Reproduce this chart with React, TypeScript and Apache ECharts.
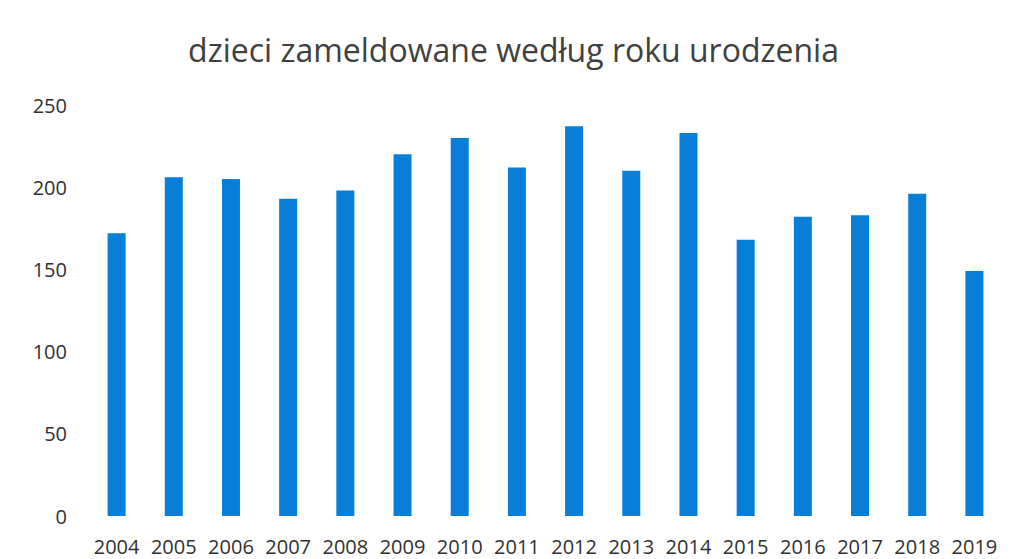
import React, { useEffect, useRef } from "react";
import * as echarts from "echarts";

const title = "dzieci zameldowane według roku urodzenia";
const years = ["2004", "2005", "2006", "2007", "2008", "2009", "2010", "2011", "2012", "2013", "2014", "2015", "2016", "2017", "2018", "2019"];
const counts = [172, 206, 205, 193, 198, 220, 230, 212, 237, 210, 233, 168, 182, 183, 196, 149];
const yTicks = { min: 0, max: 250, interval: 50 };

export default function App() {
  const ref = useRef<HTMLDivElement>(null);
  useEffect(() => {
    document.body.style.margin = "0";
    const chart = echarts.init(ref.current!, null, { renderer: "svg" });
    chart.setOption({
      animation: false,
      backgroundColor: "#ffffff",
      title: {
        text: title,
        left: "center",
        top: 28,
        textStyle: { fontFamily: "Open Sans", fontSize: 32, fontWeight: "normal", color: "#404040" },
      },
      grid: { left: 88, right: 24, top: 105, bottom: 43 },
      xAxis: {
        type: "category",
        data: years,
        axisLine: { show: false },
        axisTick: { show: false },
        axisLabel: { color: "#303030", fontFamily: "Open Sans", fontSize: 20, margin: 20, interval: 0 },
      },
      yAxis: {
        type: "value",
        min: yTicks.min,
        max: yTicks.max,
        interval: yTicks.interval,
        axisLine: { show: false },
        axisTick: { show: false },
        splitLine: { show: false },
        axisLabel: { color: "#303030", fontFamily: "Open Sans", fontSize: 20, margin: 21 },
      },
      series: [
        {
          type: "bar",
          data: counts,
          barWidth: 18,
          itemStyle: { color: "#077ED8" },
        },
      ],
    });
    return () => chart.dispose();
  }, []);
  return <div ref={ref} style={{ width: 1027, height: 559 }} />;
}
